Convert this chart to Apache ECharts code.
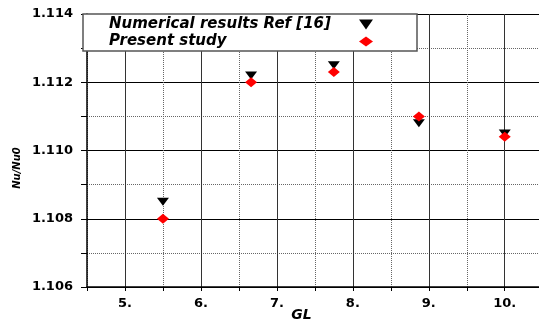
<!DOCTYPE html>
<html>
<head>
<meta charset="utf-8">
<script src="https://cdn.jsdelivr.net/npm/echarts@6/dist/echarts.min.js"></script>
<style>
  html, body { margin: 0; padding: 0; background: #fff; }
  #chart { width: 539px; height: 324px; }
</style>
</head>
<body>
<div id="chart"></div>
<script>
// Nusselt number ratio versus GL
const gl = [5.5, 6.66, 7.75, 8.87, 10];
const refValues = [1.1085, 1.1122, 1.1125, 1.1108, 1.1105];
const presentValues = [1.108, 1.112, 1.1123, 1.111, 1.1104];
const seriesNames = ['Numerical results Ref [16]', 'Present study'];
const xTickLabels = ['5.', '6.', '7.', '8.', '9.', '10.'];
const yTickLabels = ['1.106', '1.108', '1.110', '1.112', '1.114'];

const FONT = "'DejaVu Sans', sans-serif";
const SOLID = '#333';
const DOT = '#666';

function lookupLabel(list, v, eps) {
  const hit = list.find(s => Math.abs(parseFloat(s) - v) < eps);
  return hit || '';
}

const chart = echarts.init(document.getElementById('chart'), null, { renderer: 'canvas' });

const baseX = { type: 'value', min: 4.5, max: 10.5, interval: 0.5, gridIndex: 0 };
const baseY = { type: 'value', min: 1.106, max: 1.114, interval: 0.001, gridIndex: 0 };

chart.setOption({
  animation: false,
  backgroundColor: '#fff',
  grid: { left: 87, top: 14, right: -3.7, bottom: 37, containLabel: false, outerBoundsMode: 'none' },
  legend: {
    orient: 'vertical',
    left: 83,
    top: 14,
    align: 'right',
    padding: [3, 44, 2, 26],
    itemGap: 2,
    itemWidth: 14,
    itemHeight: 10,
    backgroundColor: '#fff',
    borderColor: '#555',
    borderWidth: 1.5,
    data: [
      { name: seriesNames[0], icon: 'path://M0,0L10,0L5,7Z' },
      { name: seriesNames[1], icon: 'diamond' }
    ],
    formatter: name => '{t|' + name + '}',
    textStyle: {
      rich: {
        t: {
          width: 245, align: 'left', lineHeight: 16,
          fontFamily: FONT, fontSize: 15, fontStyle: 'italic', fontWeight: 'bold', color: '#000'
        }
      }
    }
  },
  xAxis: [
    Object.assign({}, baseX, {
      position: 'bottom',
      name: 'GL',
      nameLocation: 'middle',
      nameGap: 21,
      nameMoveOverlap: false,
      nameTextStyle: { fontFamily: FONT, fontSize: 14, fontStyle: 'italic', fontWeight: 'bold', color: '#000', padding: [0, 27, 0, 0] },
      axisLine: { show: true, onZero: false, lineStyle: { color: '#000', width: 1.5 } },
      axisTick: { show: true, inside: false, length: 4, lineStyle: { color: '#000', width: 1 } },
      axisLabel: {
        show: true, margin: 10, fontFamily: FONT, fontSize: 13, fontWeight: 'bold', color: '#000',
        showMinLabel: true, showMaxLabel: true, hideOverlap: false,
        formatter: v => lookupLabel(xTickLabels, v, 1e-9)
      },
      splitLine: { show: true, showMinLine: true, showMaxLine: true, lineStyle: { color: [DOT, 'rgba(0,0,0,0)'], type: 'dotted', width: 1 } }
    }),
    Object.assign({}, baseX, {
      axisLine: { show: false },
      axisTick: { show: false },
      axisLabel: { show: false },
      splitLine: { show: true, showMinLine: true, showMaxLine: true, lineStyle: { color: ['rgba(0,0,0,0)', SOLID], type: 'solid', width: 1 } }
    })
  ],
  yAxis: [
    Object.assign({}, baseY, {
      position: 'left',
      name: 'Nu/Nu0',
      nameLocation: 'middle',
      nameGap: 65,
      nameMoveOverlap: false,
      nameTextStyle: { fontFamily: FONT, fontSize: 10, fontStyle: 'italic', fontWeight: 'bold', color: '#000', padding: [0, 35, 0, 0] },
      axisLine: { show: true, onZero: false, lineStyle: { color: '#000', width: 1.5 } },
      axisTick: { show: true, inside: false, length: 6, lineStyle: { color: '#000', width: 1 } },
      axisLabel: {
        show: true, margin: 14, fontFamily: FONT, fontSize: 13, fontWeight: 'bold', color: '#000',
        showMinLabel: true, showMaxLabel: true, hideOverlap: false,
        formatter: v => lookupLabel(yTickLabels, v, 1e-7)
      },
      splitLine: { show: true, showMinLine: true, showMaxLine: true, lineStyle: { color: ['rgba(0,0,0,0)', DOT], type: 'dotted', width: 1 } }
    }),
    Object.assign({}, baseY, {
      axisLine: { show: false },
      axisTick: { show: false },
      axisLabel: { show: false },
      splitLine: { show: true, showMinLine: true, showMaxLine: true, lineStyle: { color: ['#000', 'rgba(0,0,0,0)'], type: 'solid', width: 1 } }
    })
  ],
  series: [
    {
      name: seriesNames[0],
      type: 'scatter',
      xAxisIndex: 0,
      yAxisIndex: 0,
      symbol: 'triangle',
      symbolRotate: 180,
      symbolSize: [12, 8],
      itemStyle: { color: '#000', opacity: 1 },
      data: gl.map((x, i) => [x, refValues[i]]),
      z: 3
    },
    {
      name: seriesNames[1],
      type: 'scatter',
      xAxisIndex: 0,
      yAxisIndex: 0,
      symbol: 'diamond',
      symbolSize: [12, 10],
      itemStyle: { color: '#ff0000', opacity: 1 },
      data: gl.map((x, i) => [x, presentValues[i]]),
      z: 4
    }
  ]
});
</script>
</body>
</html>
